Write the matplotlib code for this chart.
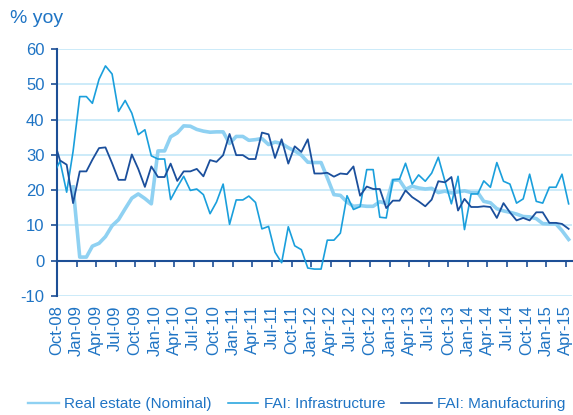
import numpy as np
import pandas as pd
import matplotlib.pyplot as plt
import matplotlib.dates as mdates

plt.rcParams['font.family'] = ['Liberation Sans', 'DejaVu Sans']
plt.rcParams['axes.unicode_minus'] = False

# monthly data, Sep-08 .. Apr-15 (plotted mid-month)
months = pd.date_range("2008-09-01", "2015-04-01", freq="MS") + pd.Timedelta(days=14)

# real estate series only starts in Dec-08
real_estate = [np.nan,
               np.nan, np.nan, 20.9, 1.0, 1.0, 4.1, 4.9, 6.8, 9.9, 11.6, 14.7, 17.7,
               18.9, 17.6, 16.1, 31.1, 31.1, 35.1, 36.2, 38.2, 38.1, 37.2, 36.7, 36.4,
               36.5, 36.5, 33.2, 35.2, 35.2, 34.1, 34.3, 34.6, 32.9, 33.6, 33.2, 32.0,
               31.1, 29.9, 27.9, 27.8, 27.8, 23.5, 18.7, 18.5, 16.6, 15.4, 15.6, 15.4,
               15.4, 16.7, 16.2, 22.8, 22.8, 20.2, 21.1, 20.6, 20.3, 20.5, 19.3, 19.7,
               19.2, 19.5, 19.8, 19.3, 19.3, 16.8, 16.4, 14.7, 14.1, 13.7, 13.2, 12.5,
               12.4, 11.9, 10.5, 10.4, 10.4, 8.5, 6.0]

infrastructure = [24.5,
                  28.2, 19.4, 31.0, 46.5, 46.5, 44.6, 51.4, 55.2, 52.9, 42.3, 45.4, 41.8,
                  35.7, 37.1, 29.7, 28.8, 28.8, 17.3, 20.8, 23.9, 19.9, 20.3, 18.7, 13.3,
                  16.6, 21.7, 10.3, 17.2, 17.2, 18.3, 16.5, 9.0, 9.7, 2.4, -0.6, 9.6,
                  4.2, 3.1, -2.1, -2.4, -2.4, 5.8, 5.8, 7.8, 18.4, 14.5, 15.3, 25.8,
                  25.8, 12.3, 12.1, 22.9, 23.1, 27.6, 21.7, 24.3, 22.5, 24.8, 29.3, 22.5,
                  16.1, 23.9, 8.8, 18.9, 18.9, 22.6, 20.8, 27.8, 22.5, 21.7, 16.3, 17.5,
                  24.5, 16.8, 16.3, 20.8, 20.8, 24.5, 16.1]

manufacturing = [34.5,
                 28.4, 27.2, 16.3, 25.3, 25.3, 28.6, 31.9, 32.1, 27.6, 22.9, 22.9, 30.1,
                 26.0, 20.9, 26.7, 23.7, 23.7, 27.5, 22.6, 25.3, 25.3, 26.0, 23.9, 28.5,
                 28.0, 29.9, 35.9, 29.9, 29.9, 28.8, 28.8, 36.3, 35.8, 29.1, 34.4, 27.5,
                 32.4, 30.8, 34.4, 24.7, 24.7, 24.9, 23.8, 24.7, 24.5, 26.7, 18.4, 21.0,
                 20.3, 20.3, 14.9, 17.0, 17.0, 19.9, 18.0, 16.8, 15.4, 17.3, 22.5, 22.2,
                 23.7, 14.2, 17.5, 15.2, 15.2, 15.4, 15.2, 12.1, 16.3, 13.7, 11.4, 12.1,
                 11.4, 13.7, 13.7, 10.7, 10.7, 10.4, 9.0]

text_blue = "#1f74c4"
axis_blue = "#1d4f96"

fig = plt.figure(figsize=(5.73, 4.15), dpi=100)
ax = fig.add_axes([0.0995, 0.287, 0.8985, 0.595])

ax.plot(months, real_estate, color="#8fd1f2", lw=2.6, label="Real estate (Nominal)", zorder=3)
ax.plot(months, infrastructure, color="#1a9fdc", lw=1.2, label="FAI: Infrastructure", zorder=4)
ax.plot(months, manufacturing, color="#1b4f9c", lw=1.3, label="FAI: Manufacturing", zorder=5)

ax.set_xlim(pd.Timestamp("2008-10-01"), pd.Timestamp("2015-04-30"))
ax.set_ylim(-10, 60)
ax.set_yticks(range(-10, 61, 10))
ax.yaxis.grid(True, color="#c3e8f8", lw=1.2)
ax.set_axisbelow(True)

ax.xaxis.set_major_locator(mdates.MonthLocator(bymonth=[1, 4, 7, 10]))
ax.xaxis.set_major_formatter(mdates.DateFormatter("%b-%y"))

for s in ["top", "right"]:
    ax.spines[s].set_visible(False)
ax.spines["bottom"].set_position(("data", 0))
ax.spines["bottom"].set_color(axis_blue)
ax.spines["bottom"].set_linewidth(1.5)
ax.spines["left"].set_color(axis_blue)
ax.spines["left"].set_linewidth(1.5)

ax.tick_params(axis="x", direction="out", length=4, width=1.2, color=axis_blue,
               labelcolor=text_blue, labelsize=12, labelrotation=90, pad=28)
ax.tick_params(axis="y", direction="out", length=4, width=1.2, color=axis_blue,
               labelcolor=text_blue, labelsize=12, pad=5)
for lbl in ax.get_xticklabels():
    lbl.set_va("top")
    lbl.set_ha("center")

fig.text(0.017, 1 - 23 / 415, "% yoy", color=text_blue, fontsize=14, va="baseline")

leg = fig.legend(loc="center", bbox_to_anchor=(0.518, 0.026), ncol=3, frameon=False,
                 fontsize=11, labelcolor=text_blue, handlelength=2.0, handletextpad=0.35,
                 columnspacing=1.05)
# legend keys are drawn thinner than the plotted lines
for line, w in zip(leg.get_lines(), [1.7, 1.1, 1.2]):
    line.set_linewidth(w)

fig.savefig("out.png", dpi=100)
